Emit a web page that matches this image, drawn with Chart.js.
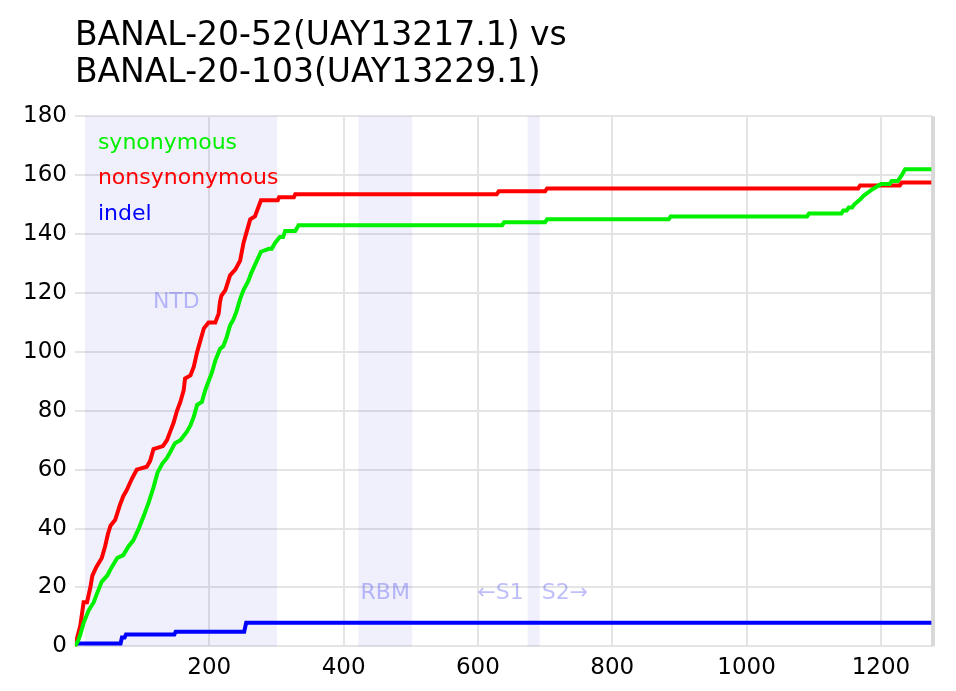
<!DOCTYPE html>
<html>
<head>
<meta charset="utf-8">
<script src="https://cdn.jsdelivr.net/npm/chart.js@4.4.1/dist/chart.umd.min.js"></script>
<style>
  body { margin: 0; background: #fff; }
  canvas { display: block; }
</style>
</head>
<body>
<canvas id="dnds-chart" width="956" height="691"></canvas>
<script>
const titleLines = ['BANAL-20-52(UAY13217.1) vs', 'BANAL-20-103(UAY13229.1)'];
const seriesNames = ['synonymous', 'nonsynonymous', 'indel'];
const seriesColors = ['#00f000', '#ff0000', '#0000ff'];

// cumulative counts along the spike alignment (position, count)
const synPos = [0, 5, 8, 13, 20, 28, 33, 40, 48, 55, 63, 72, 80, 87, 95, 102, 110, 117, 123, 130, 137, 142, 149, 157, 167, 172, 177, 182, 189, 194, 199, 204, 209, 216, 221, 226, 231, 236, 241, 246, 251, 258, 263, 271, 277, 289, 293, 298, 305, 310, 313, 328, 333, 636, 639, 700, 703, 884, 887, 1090, 1093, 1141, 1144, 1149, 1152, 1157, 1160, 1165, 1170, 1174, 1180, 1186, 1193, 1200, 1213, 1216, 1225, 1228, 1231, 1236, 1275];
const synCount = [0, 2, 4, 8, 12, 15, 18, 22, 24, 27, 30, 31, 34, 36, 40, 44, 49, 54, 59, 62, 64, 66, 69, 70, 73, 75, 78, 82, 83, 87, 90, 93, 97, 101, 102, 105, 109, 111, 114, 118, 121, 124, 127, 131, 134, 135, 135, 137, 139, 139, 141, 141, 143, 143, 144, 144, 145, 145, 146, 146, 147, 147, 148, 148, 149, 149, 150, 151, 152, 153, 154, 155, 156, 157, 157, 158, 158, 159, 160, 162, 162];

const nonsynPos = [0, 8, 13, 18, 23, 26, 32, 40, 45, 49, 53, 60, 67, 72, 77, 85, 92, 107, 112, 117, 131, 137, 142, 147, 152, 157, 162, 164, 172, 177, 182, 187, 192, 199, 209, 214, 216, 218, 224, 231, 239, 246, 251, 256, 261, 268, 273, 277, 302, 304, 326, 328, 628, 631, 700, 703, 1166, 1169, 1228, 1231, 1275];
const nonsynCount = [0, 7, 15, 15, 20, 24, 27, 30, 34, 38, 41, 43, 48, 51, 53, 57, 60, 61, 63, 67, 68, 70, 73, 76, 80, 83, 87, 91, 92, 95, 100, 104, 108, 110, 110, 113, 117, 119, 121, 126, 128, 131, 137, 141, 145, 146, 149, 151.5, 151.5, 152.5, 152.5, 153.5, 153.5, 154.5, 154.5, 155.5, 155.5, 156.5, 156.5, 157.5, 157.5];

const indelPos = [0, 68, 70, 74, 76, 148, 150, 252, 255, 1275];
const indelCount = [1, 1, 3, 3, 4, 4, 5, 5, 8, 8];

// shaded domains
const bandNames = ['NTD', 'RBM', 'S1/S2'];
const bandStart = [15, 422, 674];
const bandEnd = [301, 502, 692];

const xMax = 1276;
const yTicks = [0, 20, 40, 60, 80, 100, 120, 140, 160, 180];

function toPoints(xs, ys) {
    return xs.map((x, i) => ({ x: x, y: ys[i] }));
}

const bandPlugin = {
    id: 'bands',
    beforeDatasetsDraw(chart) {
        const { ctx, chartArea, scales } = chart;
        ctx.save();
        // right frame line
        ctx.strokeStyle = '#d9d9d9';
        ctx.lineWidth = 4;
        ctx.beginPath();
        ctx.moveTo(chartArea.right + 1, chartArea.top);
        ctx.lineTo(chartArea.right + 1, chartArea.bottom);
        ctx.stroke();

        ctx.fillStyle = 'rgba(60, 60, 230, 0.08)';
        for (let i = 0; i < bandStart.length; i++) {
            const x1 = scales.x.getPixelForValue(bandStart[i]);
            const x2 = scales.x.getPixelForValue(bandEnd[i]);
            ctx.fillRect(x1, chartArea.top, x2 - x1, chartArea.bottom - chartArea.top);
        }
        ctx.fillStyle = 'rgba(70, 70, 240, 0.35)';
        ctx.font = '22px "DejaVu Sans"';
        ctx.textBaseline = 'middle';
        ctx.textAlign = 'center';
        ctx.fillText('NTD', scales.x.getPixelForValue(151), scales.y.getPixelForValue(117));
        ctx.fillText('RBM', scales.x.getPixelForValue(462), scales.y.getPixelForValue(18));
        ctx.textAlign = 'right';
        ctx.fillText('\u2190S1', scales.x.getPixelForValue(bandStart[2]) - 4, scales.y.getPixelForValue(18));
        ctx.textAlign = 'left';
        ctx.fillText('S2\u2192', scales.x.getPixelForValue(bandEnd[2]) + 2, scales.y.getPixelForValue(18));
        ctx.restore();
    }
};

const legendPlugin = {
    id: 'textLegend',
    afterDraw(chart) {
        const { ctx, chartArea } = chart;
        ctx.save();
        ctx.font = '22px "DejaVu Sans"';
        ctx.textBaseline = 'middle';
        ctx.textAlign = 'left';
        seriesNames.forEach((name, i) => {
            ctx.fillStyle = seriesColors[i];
            ctx.fillText(name, chartArea.left + 23, chartArea.top + 27 + i * 35.5);
        });
        ctx.restore();
    }
};

const ctx = document.getElementById('dnds-chart').getContext('2d');
new Chart(ctx, {
    type: 'line',
    data: {
        datasets: [
            { label: seriesNames[0], data: toPoints(synPos, synCount), borderColor: seriesColors[0] },
            { label: seriesNames[1], data: toPoints(nonsynPos, nonsynCount), borderColor: seriesColors[1] },
            { label: seriesNames[2], data: toPoints(indelPos, indelCount), borderColor: seriesColors[2] }
        ]
    },
    options: {
        responsive: false,
        animation: false,
        devicePixelRatio: 1,
        layout: { padding: { left: 15, right: 24, top: 0, bottom: 1 } },
        elements: {
            line: { borderWidth: 4, tension: 0, fill: false, borderJoinStyle: 'miter' },
            point: { radius: 0 }
        },
        plugins: {
            legend: { display: false },
            tooltip: { enabled: false },
            title: {
                display: true,
                text: titleLines,
                align: 'start',
                fullSize: false,
                color: '#000',
                font: { family: 'DejaVu Sans', size: 33, weight: 'normal', lineHeight: 1.11 },
                padding: { top: 18, bottom: 25 }
            }
        },
        scales: {
            x: {
                type: 'linear',
                min: 0,
                max: xMax,
                border: { display: false },
                grid: {
                    drawTicks: false,
                    color: (c) => c.tick.value === 0 ? 'rgba(0,0,0,0)' : '#e4e4e4',
                    lineWidth: 2
                },
                ticks: {
                    stepSize: 200,
                    includeBounds: false,
                    autoSkip: false,
                    padding: 8,
                    color: '#000',
                    font: { family: 'DejaVu Sans', size: 23 },
                    callback: (v) => v === 0 ? '' : v
                }
            },
            y: {
                min: 0,
                max: 180,
                border: { display: false },
                grid: { drawTicks: false, color: '#e4e4e4', lineWidth: 2 },
                afterBuildTicks: (axis) => { axis.ticks = yTicks.map(v => ({ value: v })); },
                ticks: {
                    padding: 8,
                    color: '#000',
                    font: { family: 'DejaVu Sans', size: 23 }
                }
            }
        }
    },
    plugins: [bandPlugin, legendPlugin]
});
</script>
</body>
</html>
